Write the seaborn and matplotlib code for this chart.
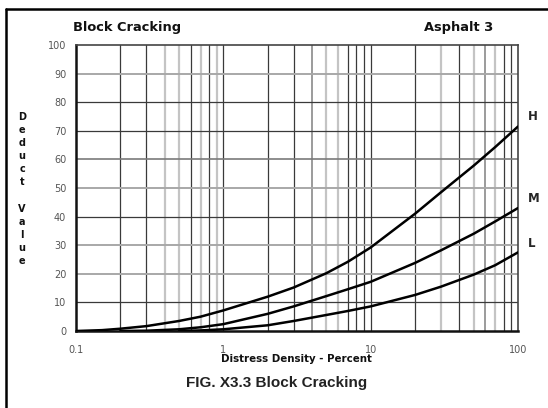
import matplotlib
matplotlib.use("Agg")
import matplotlib.pyplot as plt
import seaborn as sns
import pandas as pd
from matplotlib.lines import Line2D

# ---- data ----
h_density = [0.1, 0.15, 0.2, 0.3, 0.5, 0.7, 1, 2, 3, 5, 7, 10, 20, 30, 50, 70, 100]
h_deduct = [0, 0.3, 0.8, 1.7, 3.5, 5.0, 7.2, 12.0, 15.2, 20.2, 24.2, 29.2, 41.0, 48.5, 57.8, 64.3, 71.5]

m_density = [0.2, 0.3, 0.5, 0.7, 1, 2, 3, 5, 7, 10, 20, 30, 50, 70, 100]
m_deduct = [0, 0.1, 0.6, 1.3, 2.4, 6.0, 8.6, 12.2, 14.6, 17.2, 23.8, 28.2, 34.0, 38.3, 43.0]

l_density = [0.5, 0.7, 1, 2, 3, 5, 7, 10, 20, 30, 50, 70, 100]
l_deduct = [0, 0.2, 0.6, 2.0, 3.5, 5.6, 7.0, 8.6, 12.6, 15.5, 19.7, 23.0, 27.5]

severity = ["H", "M", "L"]
x_tick_values = [0.1, 1, 10, 100]
x_tick_labels = ["0.1", "1", "10", "100"]
y_tick_values = list(range(0, 101, 10))

df = pd.concat([
    pd.DataFrame({"density": h_density, "deduct": h_deduct, "sev": "H"}),
    pd.DataFrame({"density": m_density, "deduct": m_deduct, "sev": "M"}),
    pd.DataFrame({"density": l_density, "deduct": l_deduct, "sev": "L"}),
], ignore_index=True)

# ---- style ----
sns.set_style("white")
plt.rcParams["font.family"] = ["DejaVu Sans"]

W, H = 548, 408
fig = plt.figure(figsize=(W / 100, H / 100), dpi=100)
ax = fig.add_axes([76 / W, 1 - 331 / H, 442 / W, 286 / H])

# grid (shades vary like the scanned original)
minor_x = [k * d for d in (0.1, 1, 10) for k in range(2, 10)]
light_x = [0.4, 0.5, 0.7, 0.9, 5, 6, 30, 50, 70]
medium_x = [4, 60]
light_y = [20, 30, 50, 90]
medium_y = [60]
for v in minor_x + [1, 10]:
    if any(abs(v - q) < 1e-9 for q in light_x):
        c, lw = "#c4c4c4", 1.6
    elif any(abs(v - q) < 1e-9 for q in medium_x):
        c, lw = "#8a8a8a", 1.2
    else:
        c, lw = "#3a3a3a", 0.9
    ax.axvline(v, color=c, lw=lw, zorder=1)
for v in y_tick_values[1:-1]:
    if v in light_y:
        c, lw = "#a8a8a8", 1.4
    elif v in medium_y:
        c, lw = "#7a7a7a", 1.2
    else:
        c, lw = "#3a3a3a", 0.9
    ax.axhline(v, color=c, lw=lw, zorder=1)

sns.lineplot(data=df, x="density", y="deduct", hue="sev", hue_order=severity,
             palette=["black"] * 3, linewidth=1.8, legend=False, ax=ax,
             zorder=3, sort=True)
for ln in ax.get_lines()[-3:]:
    ln.set_solid_joinstyle("round")
    ln.set_solid_capstyle("round")

ax.set_xscale("log")
ax.set_xlim(0.1, 100)
ax.set_ylim(0, 100)
ax.set_xticks(x_tick_values)
ax.set_xticklabels(x_tick_labels)
ax.set_xticks(minor_x, minor=True)
ax.set_yticks(y_tick_values)
ax.set_yticklabels([str(v) for v in y_tick_values])
ax.set_xlabel("")
ax.set_ylabel("")

ax.tick_params(axis="both", which="both", direction="out", length=4, width=0.9,
               color="#333333", labelsize=7, labelcolor="#555555", pad=3)
ax.tick_params(axis="x", which="major", pad=6)

for side in ("left", "bottom"):
    ax.spines[side].set_linewidth(1.8)
    ax.spines[side].set_color("#111111")
for side in ("top", "right"):
    ax.spines[side].set_visible(True)
    ax.spines[side].set_linewidth(1.2)
    ax.spines[side].set_color("#444444")

# end labels
last = {"H": h_deduct[-1], "M": m_deduct[-1], "L": l_deduct[-1]}
offs = {"H": 3.5, "M": 3.3, "L": 3.0}
for s in severity:
    ax.annotate(s, xy=(100, last[s] + offs[s]), xytext=(7, 0), textcoords="offset points",
                fontsize=8.5, fontweight="bold", va="center", ha="left", annotation_clip=False)

# header texts
fig.text(73 / W, 1 - 28 / H, "Block Cracking", fontsize=9.4, fontweight="bold",
         ha="left", va="center", color="#111111")
fig.text(493 / W, 1 - 28 / H, "Asphalt 3", fontsize=9.4, fontweight="bold",
         ha="right", va="center", color="#111111")

# vertical stacked y label
fig.text(22 / W, 1 - 189 / H, "D\ne\nd\nu\nc\nt\n\nV\na\nl\nu\ne", fontsize=7,
         fontweight="bold", ha="center", va="center", linespacing=1.39, color="#111111")

fig.text(296 / W, 1 - 359 / H, "Distress Density - Percent", fontsize=7.4,
         fontweight="bold", ha="center", va="center", color="#111111")
fig.text(277 / W, 1 - 383 / H, "FIG. X3.3 Block Cracking", fontsize=11,
         family=["Liberation Sans", "DejaVu Sans"], fontweight="bold",
         ha="center", va="center", color="#222222")

# outer frame (left and top edges visible)
fig.add_artist(Line2D([6 / W, 6 / W], [0, 1 - 9 / H], transform=fig.transFigure,
                      color="black", lw=1.8))
fig.add_artist(Line2D([6 / W, 1], [1 - 9 / H, 1 - 9 / H], transform=fig.transFigure,
                      color="black", lw=1.8))

fig.savefig("out.png", dpi=100)
